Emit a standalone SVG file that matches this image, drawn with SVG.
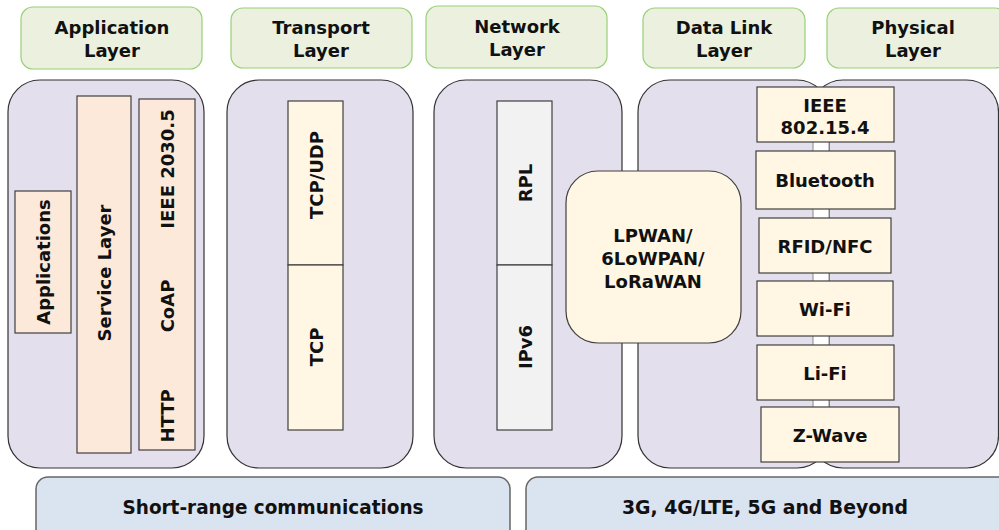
<svg xmlns="http://www.w3.org/2000/svg" width="999" height="530" viewBox="0 0 999 530">
<style>
.hdr{fill:#ebf1de;stroke:#97d077;stroke-width:1.2}
.panel{fill:#e4dfec;stroke:#333333;stroke-width:1.2}
.peach{fill:#fde9d9;stroke:#404040;stroke-width:1.2}
.cream{fill:#fff7e4;stroke:#404040;stroke-width:1.2}
.gray{fill:#f2f2f2;stroke:#404040;stroke-width:1.2}
.blue{fill:#dae3f0;stroke:#666666;stroke-width:1.5}
.strip{fill:#ffffff;stroke:#888888;stroke-width:1}
text{font-family:"DejaVu Sans",Verdana,sans-serif;font-weight:bold;font-size:18px;fill:#111111;text-anchor:middle;dominant-baseline:central}
.cond{font-family:"DejaVu Sans Condensed","DejaVu Sans",sans-serif;font-stretch:condensed;font-size:19px}
</style>

<g id="hdr-application"><rect class="hdr" x="21" y="7" width="181" height="62" rx="12"/><text x="112" y="27">Application</text><text x="112" y="50">Layer</text></g>
<g id="hdr-transport"><rect class="hdr" x="231" y="8" width="181" height="60" rx="12"/><text x="321" y="27">Transport</text><text x="321" y="50">Layer</text></g>
<g id="hdr-network"><rect class="hdr" x="426" y="6" width="181" height="62" rx="12"/><text x="517" y="26">Network</text><text x="517" y="49">Layer</text></g>
<g id="hdr-datalink"><rect class="hdr" x="643" y="8" width="162" height="60" rx="12"/><text x="724" y="27">Data Link</text><text x="724" y="50">Layer</text></g>
<g id="hdr-physical"><rect class="hdr" x="827" y="8" width="180" height="60" rx="12"/><text x="913" y="27">Physical</text><text x="913" y="50">Layer</text></g>

<g id="panel-application"><rect class="panel" x="8" y="80" width="196" height="388" rx="32"/></g>
<g id="panel-transport"><rect class="panel" x="227" y="80" width="186" height="388" rx="32"/></g>
<g id="panel-network"><rect class="panel" x="434" y="80" width="188" height="388" rx="32"/></g>
<g id="panel-physical"><rect class="panel" x="811" y="80" width="187.5" height="388" rx="32"/></g>
<g id="panel-datalink"><rect class="panel" x="638" y="80" width="191" height="388" rx="32"/></g>

<g id="applications"><rect class="peach" x="15" y="191" width="56" height="142"/><text transform="translate(43,262) rotate(-90)">Applications</text></g>
<g id="service-layer"><rect class="peach" x="77" y="96" width="54" height="357"/><text transform="translate(104,273) rotate(-90)">Service Layer</text></g>
<g id="app-protocols"><rect class="peach" x="139" y="99" width="56" height="351"/>
<text transform="translate(167,169) rotate(-90)">IEEE 2030.5</text>
<text transform="translate(167,306) rotate(-90)">CoAP</text>
<text transform="translate(167,416) rotate(-90)">HTTP</text></g>

<g id="tcp-udp"><rect class="cream" x="288" y="101" width="55" height="164"/><text transform="translate(316,175) rotate(-90)">TCP/UDP</text></g>
<g id="tcp"><rect class="cream" x="288" y="265" width="55" height="165"/><text transform="translate(316,347) rotate(-90)">TCP</text></g>

<g id="rpl"><rect class="gray" x="497" y="101" width="55" height="164"/><text transform="translate(525,183) rotate(-90)">RPL</text></g>
<g id="ipv6"><rect class="gray" x="497" y="265" width="55" height="165"/><text transform="translate(525,347) rotate(-90)">IPv6</text></g>

<g id="lpwan"><rect class="cream" x="566" y="171" width="175" height="172" rx="32"/><text x="653" y="235">LPWAN/</text><text x="653" y="258">6LoWPAN/</text><text x="653" y="281">LoRaWAN</text></g>

<g id="connectors"><rect class="strip" x="813" y="92" width="16" height="366"/></g>

<g id="ieee802154"><rect class="cream" x="757" y="87" width="137" height="55"/><text x="825" y="105">IEEE</text><text x="825" y="127">802.15.4</text></g>
<g id="bluetooth"><rect class="cream" x="756" y="151" width="139" height="58"/><text x="825" y="180">Bluetooth</text></g>
<g id="rfid-nfc"><rect class="cream" x="759" y="218" width="132" height="55"/><text x="825" y="246">RFID/NFC</text></g>
<g id="wifi"><rect class="cream" x="757" y="281" width="136" height="55"/><text x="825" y="309">Wi-Fi</text></g>
<g id="lifi"><rect class="cream" x="757" y="345" width="137" height="55"/><text x="825" y="373">Li-Fi</text></g>
<g id="zwave"><rect class="cream" x="761" y="407" width="138" height="55"/><text x="830" y="435">Z-Wave</text></g>

<g id="short-range"><rect class="blue" x="36" y="477" width="474" height="70" rx="12"/><text class="cond" x="273" y="507" textLength="301" lengthAdjust="spacingAndGlyphs">Short-range communications</text></g>
<g id="cellular"><rect class="blue" x="526" y="477" width="490" height="70" rx="12"/><text class="cond" x="765" y="507" textLength="286" lengthAdjust="spacingAndGlyphs">3G, 4G/LTE, 5G and Beyond</text></g>
</svg>
